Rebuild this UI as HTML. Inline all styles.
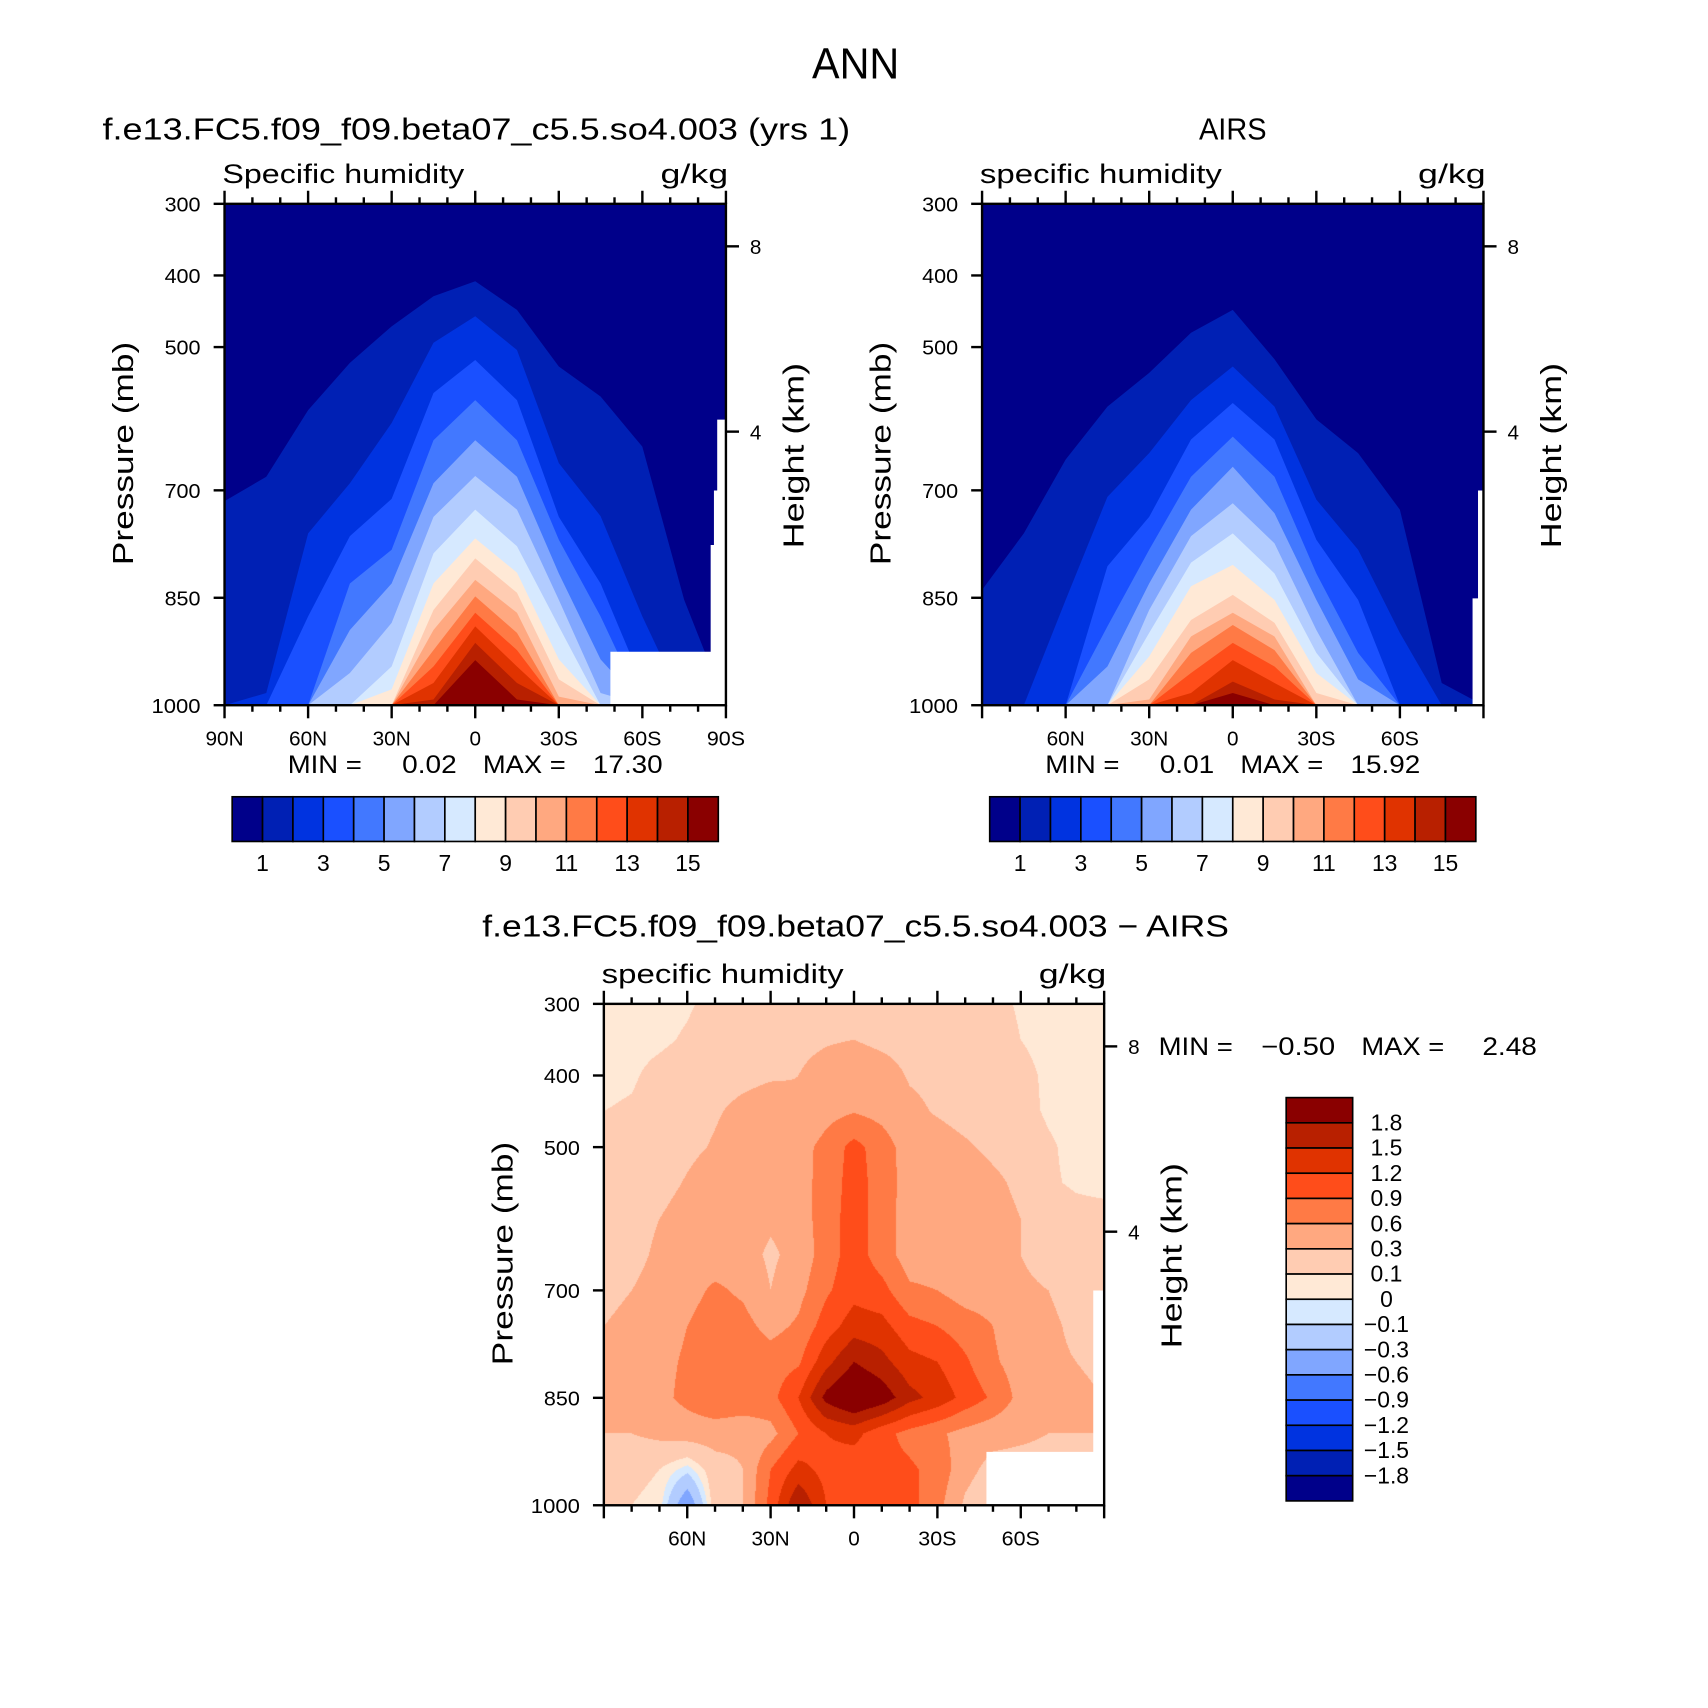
<!DOCTYPE html>
<html><head><meta charset="utf-8"><style>
html,body{margin:0;padding:0;background:#fff;}
#wrap{position:relative;width:1708px;height:1708px;overflow:hidden;}
#diffCanvas{position:absolute;}
svg{position:absolute;left:0;top:0;}
text{font-family:"Liberation Sans",sans-serif;fill:#000;}
</style></head><body>
<div id="wrap">
<canvas id="diffCanvas"></canvas>
<svg id="fig" width="1708" height="1708" viewBox="0 0 1567 1567" xmlns="http://www.w3.org/2000/svg"></svg>
</div>
<script>
// ---------- data ----------
const lats13 = [90,75,60,45,30,15,0,-15,-30,-45,-60,-75,-90];
const qLevels = [1,2,3,4,5,6,7,8,9,10,11,12,13,14,15];
// pressure (mb) of the top of region q >= level, per latitude
const modelTops = [
 [715,681,588,522,471,429,408,448,527,569,639,853,1000],
 [1000,983,760,690,606,494,457,504,662,736,876,1000,1000],
 [1000,1000,876,764,712,564,518,574,737,830,969,1000,1000],
 [1000,1000,1000,830,783,630,574,630,769,876,1000,1000,1000],
 [1000,1000,1000,895,830,690,630,681,816,936,1000,1000,1000],
 [1000,1000,1000,955,885,737,680,727,853,983,1000,1000,1000],
 [1000,1000,1000,1000,946,788,727,778,890,1000,1000,1000,1000],
 [1000,1000,1000,1000,978,830,767,815,936,1000,1000,1000,1000],
 [1000,1000,1000,1000,1000,867,795,843,964,1000,1000,1000,1000],
 [1000,1000,1000,1000,1000,895,825,871,988,1000,1000,1000,1000],
 [1000,1000,1000,1000,1000,923,848,899,1000,1000,1000,1000,1000],
 [1000,1000,1000,1000,1000,946,871,923,1000,1000,1000,1000,1000],
 [1000,1000,1000,1000,1000,969,890,946,1000,1000,1000,1000,1000],
 [1000,1000,1000,1000,1000,992,913,969,1000,1000,1000,1000,1000],
 [1000,1000,1000,1000,1000,1000,937,992,1000,1000,1000,1000,1000]
];
const airsTops = [
 [839,760,657,583,536,480,448,517,601,648,727,969,1000],
 [1000,1000,853,709,648,574,527,583,713,783,899,1000,1000],
 [1000,1000,1000,806,737,629,578,629,769,853,1000,1000,1000],
 [1000,1000,1000,890,783,681,625,681,816,927,1000,1000,1000],
 [1000,1000,1000,946,830,727,667,732,853,964,1000,1000,1000],
 [1000,1000,1000,1000,867,764,718,774,895,1000,1000,1000,1000],
 [1000,1000,1000,1000,899,801,760,816,927,1000,1000,1000,1000],
 [1000,1000,1000,1000,932,834,804,853,955,1000,1000,1000,1000],
 [1000,1000,1000,1000,964,881,846,885,983,1000,1000,1000,1000],
 [1000,1000,1000,1000,992,904,871,904,1000,1000,1000,1000,1000],
 [1000,1000,1000,1000,1000,927,888,923,1000,1000,1000,1000,1000],
 [1000,1000,1000,1000,1000,955,913,946,1000,1000,1000,1000,1000],
 [1000,1000,1000,1000,1000,983,937,969,1000,1000,1000,1000,1000],
 [1000,1000,1000,1000,1000,1000,967,992,1000,1000,1000,1000,1000],
 [1000,1000,1000,1000,1000,1000,983,1000,1000,1000,1000,1000,1000]
];
const diffLats = [90,80,70,60,50,40,30,20,10,0,-10,-20,-30,-40,-50,-60,-70,-80,-90];
const diffPres = [300,350,400,450,500,550,600,650,700,750,800,850,900,950,1000];
const diffVals = [
 [.05,.05,.05,.08,.15,.2,.2,.2,.22,.22,.2,.2,.2,.2,.15,.08,.05,.05,.05],
 [.04,.05,.07,.12,.2,.22,.25,.25,.28,.3,.25,.22,.22,.2,.18,.1,.05,.05,.05],
 [.06,.08,.15,.2,.22,.25,.28,.3,.38,.45,.4,.28,.25,.22,.2,.15,.07,.05,.05],
 [.1,.12,.18,.22,.28,.35,.4,.32,.5,.58,.5,.35,.28,.22,.2,.15,.08,.05,.05],
 [.15,.18,.2,.25,.32,.4,.45,.48,.7,1.0,.75,.45,.4,.33,.25,.2,.12,.06,.05],
 [.15,.18,.22,.32,.42,.45,.45,.5,.7,1.05,.75,.48,.45,.45,.35,.25,.12,.08,.06],
 [.18,.2,.3,.4,.45,.45,.35,.45,.75,1.05,.75,.45,.45,.45,.4,.3,.2,.15,.15],
 [.2,.22,.35,.42,.45,.42,.25,.4,.75,1.05,.75,.45,.45,.45,.4,.3,.2,.15,.15],
 [.25,.3,.4,.5,.65,.55,.3,.5,.85,1.1,1.0,.65,.6,.45,.45,.35,.3,.2,.2],
 [.3,.35,.45,.6,.75,.7,.5,.65,1.05,1.35,1.3,1.0,.9,.75,.6,.4,.35,.25,.25],
 [.35,.42,.5,.65,.8,.8,.75,.85,1.4,1.8,1.6,1.3,1.2,.95,.65,.45,.35,.3,.25],
 [.35,.4,.5,.7,.9,.85,.8,1.2,1.9,2.2,2.0,1.6,1.4,1.1,.85,.5,.4,.35,.3],
 [.3,.3,.35,.4,.4,.35,.5,.9,1.2,1.3,1.0,.8,.65,.5,.4,.35,.3,.3,.3],
 [.2,.15,.1,-.05,.2,.3,.9,1.3,1.1,1.0,1.0,.95,.8,.4,.2,.2,.2,.2,.2],
 [.1,.1,.05,-.5,.2,.3,1.0,1.8,1.2,1.0,1.0,1.0,.7,.25,.05,.05,.05,.05,.05]
];
const diffLevels = [-1.8,-1.5,-1.2,-0.9,-0.6,-0.3,-0.1,0,0.1,0.3,0.6,0.9,1.2,1.5,1.8];
const diffLevelLabels = ["\u22121.8","\u22121.5","\u22121.2","\u22120.9","\u22120.6","\u22120.3","\u22120.1","0","0.1","0.3","0.6","0.9","1.2","1.5","1.8"];
const presTicks = [300,400,500,700,850,1000];
const latTickLabels = ["90N","60N","30N","0","30S","60S","90S"];
const latTickVals = [90,60,30,0,-30,-60,-90];
const heightTicks = [8,4];
const colors = ["#00008a","#0020b4","#0033e0","#1a50ff","#4278ff","#80a6ff","#b2ccff","#d6e9ff","#ffe9d6","#ffccb2","#ffa880","#ff7a45","#ff4d1a","#e03300","#b82000","#8a0000"];

// ---------- helpers ----------
const NS="http://www.w3.org/2000/svg";
const svg=document.getElementById('fig');
function el(tag,attrs,parent){const e=document.createElementNS(NS,tag);for(const k in attrs)e.setAttribute(k,attrs[k]);(parent||svg).appendChild(e);return e;}
function txt(s,x,y,size,anchor,parent,len){const a={x:x,y:y,'font-size':size,'text-anchor':anchor||'start'};
  if(len){a.textLength=len;a.lengthAdjust='spacingAndGlyphs';}
  const t=el('text',a,parent);t.textContent=s;return t;}

function makePanel(px,py,W,H){
  return {
    x:(lat)=>px+(90-lat)/180*W,
    y:(p)=>py+(p-300)/700*H,
    px:px,py:py,W:W,H:H
  };
}
const heightY={8:226-187,4:396-187};

function drawContourPanel(ax,tops,name){
  const g=el('g',{});
  
  
  const bg=el('rect',{x:ax.px,y:ax.py,width:ax.W,height:ax.H,fill:colors[0]},g);
  
  
  tops.forEach((row,k)=>{
    let d='M'+ax.x(lats13[0])+','+ax.y(1000);
    row.forEach((p,i)=>{d+=' L'+ax.x(lats13[i]).toFixed(1)+','+ax.y(p).toFixed(1);});
    d+=' L'+ax.x(lats13[lats13.length-1])+','+ax.y(1000)+' Z';
    const path=el('path',{d:d,fill:colors[k+1]},g);
    
    
  });
  return g;
}

function drawAxes(ax,name,opts){
  const g=el('g',{stroke:'#000','stroke-width':2.2,fill:'none'});
  
  
  const f=el('rect',{x:ax.px,y:ax.py,width:ax.W,height:ax.H},g);
  
  
  for(let lat=90;lat>=-90;lat-=10){
    const major=(lat%30===0);
    const x=ax.x(lat);
    const L=major?12:6;
    el('line',{x1:x,y1:ax.py,x2:x,y2:ax.py-L},g);
    el('line',{x1:x,y1:ax.py+ax.H,x2:x,y2:ax.py+ax.H+L},g);
  }
  presTicks.forEach(p=>{
    el('line',{x1:ax.px-10,y1:ax.y(p),x2:ax.px,y2:ax.y(p)},g);
    const t=txt(String(p),ax.px-22,ax.y(p)+7,19,'end',null,p===1000?45:33);
    t.setAttribute('stroke','none');
    
    
  });
  heightTicks.forEach(h=>{
    const y=ax.py+heightY[h];
    el('line',{x1:ax.px+ax.W,y1:y,x2:ax.px+ax.W+12,y2:y},g);
    const t=txt(String(h),ax.px+ax.W+22,y+7,19,'start');
    t.setAttribute('stroke','none');
    
    
  });
  latTickVals.forEach((lat,i)=>{
    if(!opts.allLats && (lat===90||lat===-90)) return;
    const s=latTickLabels[i];
    const t=txt(s,ax.x(lat),ax.py+ax.H+37,19,'middle',null,s.length===3?35:null);
    t.setAttribute('stroke','none');
    
    
  });
  let t=txt(opts.lower?'specific humidity':'Specific humidity',ax.px-2,ax.py-19,25,'start',null,222);
  
  
  t=txt('g/kg',ax.px+ax.W+2,ax.py-19,25,'end',null,62);
  
  
  const cy=ax.py+ax.H/2;
  t=el('text',{x:0,y:0,'font-size':26,'text-anchor':'middle',textLength:205,lengthAdjust:'spacingAndGlyphs',transform:'translate('+(ax.px-84)+','+(cy-1)+') rotate(-90)'});
  t.textContent='Pressure (mb)';
  
  
  t=el('text',{x:0,y:0,'font-size':26,'text-anchor':'middle',textLength:170,lengthAdjust:'spacingAndGlyphs',transform:'translate('+(ax.px+ax.W+71)+','+(cy+1)+') rotate(-90)'});
  t.textContent='Height (km)';
  
  
}

function hColorbar(x0,y0,w,h,name){
  const g=el('g',{});
  
  
  const bw=w/16;
  colors.forEach((c,i)=>{
    const r=el('rect',{x:x0+i*bw,y:y0,width:bw,height:h,fill:c,stroke:'#000','stroke-width':1.5},g);
    
    
  });
  qLevels.forEach((v,i)=>{
    if(v%2===1){
      const t=txt(String(v),x0+(i+1)*bw,y0+h+27,21,'middle',g);
      
      
    }
  });
}

// ---------- figure ----------
let t=txt('ANN',785,72,40,'middle',null,80);



const ax1=makePanel(206,187,460,460);
const ax2=makePanel(901,187,460,460);
const ax3=makePanel(554,921,459,460);

drawContourPanel(ax1,modelTops,'model-panel');
let w=el('path',{d:'M666,385 L658,385 L658,450 L655,450 L655,500 L652,500 L652,598 L560,598 L560,647 L666,647 Z',fill:'#fff'});


drawAxes(ax1,'model-panel',{allLats:true,lower:false});

drawContourPanel(ax2,airsTops,'airs-panel');
w=el('path',{d:'M1361,450 L1356,450 L1356,549 L1351,549 L1351,647 L1361,647 Z',fill:'#fff'});


drawAxes(ax2,'airs-panel',{allLats:false,lower:true});

t=txt('f.e13.FC5.f09_f09.beta07_c5.5.so4.003 (yrs 1)',94,128,28,'start',null,686);


t=txt('AIRS',1131,128,28,'middle',null,62);



function minmax(y,mn,mx,name,xs,ls){
  const parts=[['MIN  =',xs[0],ls[0]],[mn,xs[1],ls[1]],['MAX  =',xs[2],ls[2]],[mx,xs[3],ls[3]]];
  parts.forEach((p,i)=>{const tt=txt(p[0],p[1],y,23,'start',null,p[2]);
    
    });
}
minmax(709,'0.02','17.30','model-minmax',[264,369,443,544],[68,50,76,64]);
minmax(709,'0.01','15.92','airs-minmax',[959,1064,1138,1239],[68,50,76,64]);

hColorbar(213,731,446,41,'model-colorbar');
hColorbar(908,731,446,41,'airs-colorbar');

t=txt('f.e13.FC5.f09_f09.beta07_c5.5.so4.003 \u2212 AIRS',785,859,28,'middle',null,685);


w=el('path',{d:'M905,1332 L1003,1332 L1003,1184 L1013,1184 L1013,1381 L905,1381 Z',fill:'#fff'});


drawAxes(ax3,'difference-panel',{allLats:false,lower:true});
minmax(968,'\u22120.50','2.48','difference-minmax',[1063,1157,1249,1360],[68,68,76,50]);

// vertical colorbar
(function(){
  const g=el('g',{});
  
  
  const x0=1180,y0=1007,bw=61,bh=370/16;
  for(let i=0;i<16;i++){
    const r=el('rect',{x:x0,y:y0+i*bh,width:bw,height:bh,fill:colors[15-i],stroke:'#000','stroke-width':1.5},g);
    
    
  }
  for(let j=1;j<=15;j++){
    const idx=15-j;
    const tt=txt(diffLevelLabels[idx],1272,y0+j*bh+7,21,'middle',g);
    
    
  }
})();

// ---------- difference field on canvas ----------
(function(){
  const S=1708/1567;
  const cv=document.getElementById('diffCanvas');
  const X0=ax3.px*S, Y0=ax3.py*S, CW=Math.round(ax3.W*S), CH=Math.round(ax3.H*S);
  cv.width=CW; cv.height=CH;
  cv.style.left=X0+'px'; cv.style.top=Y0+'px';
  cv.style.width=CW+'px'; cv.style.height=CH+'px';
  const ctx=cv.getContext('2d');
  const img=ctx.createImageData(CW,CH);
  const rgb=colors.map(c=>[parseInt(c.substr(1,2),16),parseInt(c.substr(3,2),16),parseInt(c.substr(5,2),16)]);
  const nL=diffLats.length, nP=diffPres.length;
  for(let j=0;j<CH;j++){
    const p=300+(j+0.5)/CH*700;
    let fp=(p-diffPres[0])/(diffPres[nP-1]-diffPres[0])*(nP-1);
    let pi=Math.min(nP-2,Math.floor(fp)); let tp=fp-pi;
    for(let i=0;i<CW;i++){
      const lat=90-(i+0.5)/CW*180;
      let fl=(diffLats[0]-lat)/(diffLats[0]-diffLats[nL-1])*(nL-1);
      let li=Math.min(nL-2,Math.floor(fl)); let tl=fl-li;
      const v=(1-tp)*((1-tl)*diffVals[pi][li]+tl*diffVals[pi][li+1])+tp*((1-tl)*diffVals[pi+1][li]+tl*diffVals[pi+1][li+1]);
      let k=0; while(k<diffLevels.length && v>=diffLevels[k]) k++;
      const c=rgb[k]; const o=(j*CW+i)*4;
      img.data[o]=c[0];img.data[o+1]=c[1];img.data[o+2]=c[2];img.data[o+3]=255;
    }
  }
  ctx.putImageData(img,0,0);
})();
</script>
</body></html>
